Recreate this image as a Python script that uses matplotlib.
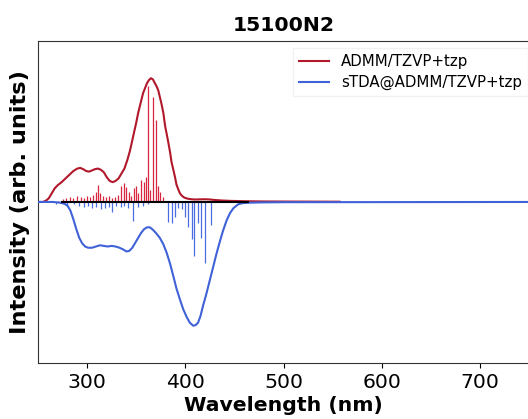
import numpy as np
import matplotlib.pyplot as plt

# === 1. Data ===
# broadened spectrum, ADMM/TZVP+tzp (positive)
red_wl = [250, 255, 258, 261, 264, 267, 270, 274, 278, 282, 286, 290, 293, 296, 299,
          302, 305, 308, 311, 314, 317, 320, 323, 326, 329, 332, 335, 338, 341, 343.5,
          345.5, 348, 350, 352, 354.5, 357, 359, 361, 363, 365, 367, 369, 371, 372.5,
          374, 375.8, 377.6, 379.5, 381, 382.7, 384.5, 386, 387.8, 389.5, 391, 392.9,
          394.5, 396.5, 399, 402, 406, 410, 415, 420, 425, 430, 437, 445, 460, 480,
          510, 557]
red_int = [0, 0, 0.01, 0.03, 0.07, 0.11, 0.135, 0.16, 0.19, 0.22, 0.25, 0.27, 0.275,
           0.265, 0.25, 0.245, 0.255, 0.265, 0.27, 0.26, 0.24, 0.2, 0.17, 0.16, 0.17,
           0.19, 0.23, 0.27, 0.34, 0.41, 0.48, 0.57, 0.64, 0.72, 0.80, 0.88, 0.92, 0.96,
           0.985, 1.0, 0.99, 0.96, 0.93, 0.90, 0.85, 0.79, 0.72, 0.61, 0.55, 0.48, 0.40,
           0.32, 0.26, 0.20, 0.14, 0.10, 0.07, 0.05, 0.035, 0.027, 0.022, 0.02, 0.021,
           0.022, 0.02, 0.016, 0.012, 0.009, 0.006, 0.004, 0.003, 0.002]

# broadened spectrum, sTDA@ADMM/TZVP+tzp (drawn negative)
blue_wl = [250, 265, 272, 277, 280, 283, 286, 289, 292, 295, 298, 301, 305, 309, 313,
           317, 321, 325, 329, 333, 337, 340, 343, 346, 349, 352, 355, 358, 361, 364,
           367, 370, 374, 377.5, 381, 384.5, 387.8, 391, 394.6, 398, 401.4, 404.5, 408,
           410.5, 413, 415.5, 418, 421.5, 425, 428.5, 432, 435.5, 438.5, 442, 445.5,
           449, 453.6, 458, 465, 475, 500, 760]
blue_int = [0, 0, -0.005, -0.015, -0.03, -0.07, -0.14, -0.22, -0.29, -0.335, -0.36,
            -0.37, -0.37, -0.36, -0.35, -0.355, -0.36, -0.355, -0.36, -0.37, -0.385,
            -0.40, -0.395, -0.37, -0.33, -0.29, -0.25, -0.22, -0.205, -0.205, -0.225,
            -0.25, -0.29, -0.34, -0.41, -0.50, -0.60, -0.70, -0.79, -0.87, -0.93, -0.975,
            -1.0, -0.995, -0.975, -0.92, -0.84, -0.74, -0.63, -0.52, -0.41, -0.31, -0.23,
            -0.15, -0.09, -0.05, -0.02, -0.01, -0.006, -0.004, -0.002, 0]

# stick spectra (oscillator strengths, normalised)
red_stick_wl = [270, 275, 279, 283, 286, 290, 294, 297, 300, 303, 306, 309, 311, 313,
                316, 319, 322, 325, 328, 331, 335, 338, 340, 343, 345, 348, 350, 352,
                355, 358, 360, 362.4, 364, 367.4, 370, 372, 374, 377]
red_stick_int = [0.01, 0.02, 0.03, 0.04, 0.03, 0.05, 0.04, 0.03, 0.05, 0.04, 0.06, 0.08,
                 0.14, 0.07, 0.05, 0.04, 0.05, 0.03, 0.04, 0.06, 0.13, 0.15, 0.12, 0.08,
                 0.05, 0.11, 0.13, 0.07, 0.18, 0.16, 0.2, 0.94, 0.1, 0.85, 0.66, 0.13,
                 0.08, 0.04]

blue_stick_wl = [268, 272, 280, 287, 292, 297, 301, 305, 309, 314, 318, 322, 325, 329,
                 334, 338, 342, 347, 352, 357, 362, 382.7, 386, 389.5, 393, 397, 400,
                 403, 406.5, 409, 413, 415.7, 420, 425.8]
blue_stick_int = [-0.02, -0.01, -0.03, -0.02, -0.03, -0.04, -0.03, -0.05, -0.04, -0.06,
                  -0.05, -0.04, -0.08, -0.03, -0.04, -0.03, -0.05, -0.15, -0.04, -0.03,
                  -0.02, -0.16, -0.17, -0.12, -0.05, -0.06, -0.12, -0.2, -0.3, -0.44,
                  -0.17, -0.29, -0.49, -0.19]

# === 2. Figure ===
fig = plt.figure(figsize=(5.28, 4.19), dpi=100)
ax = fig.add_axes([0.072, 0.134, 0.93, 0.768])

ax.plot(red_wl, red_int, color='#b2182b', linewidth=1.5, label='ADMM/TZVP+tzp', zorder=3)
ax.vlines(red_stick_wl, 0, red_stick_int, color='#d7263d', linewidth=0.9, zorder=2)
ax.plot(blue_wl, blue_int, color='#4062d8', linewidth=1.5, label='sTDA@ADMM/TZVP+tzp', zorder=3)
ax.vlines(blue_stick_wl, 0, blue_stick_int, color='#4a6ee0', linewidth=0.9, zorder=2)
ax.hlines(0, 273, 465, color='black', linewidth=1.5, zorder=4)

ax.set_xlim(250, 750)
ax.set_ylim(-1.3, 1.3)
ax.set_yticks([])
ax.set_xticks([300, 400, 500, 600, 700])
ax.tick_params(axis='x', labelsize=14.7)
ax.spines['right'].set_visible(False)
for s in ['left', 'top', 'bottom']:
    ax.spines[s].set_color('#333333')

ax.set_xlabel('Wavelength (nm)', fontsize=14.7, fontweight='bold', labelpad=3)
ax.set_ylabel('Intensity (arb. units)', fontsize=16.2, fontweight='bold', labelpad=6)
ax.set_title('15100N2', fontsize=14.7, fontweight='bold', pad=7)

ax.legend(loc='upper left', bbox_to_anchor=(0.555, 0.885), bbox_transform=fig.transFigure,
          fontsize=10.8, frameon=True, framealpha=0.8, edgecolor='#eeeeee', fancybox=False,
          handlelength=2.0, borderaxespad=0, labelspacing=0.4)

fig.savefig('out.png', dpi=100)
